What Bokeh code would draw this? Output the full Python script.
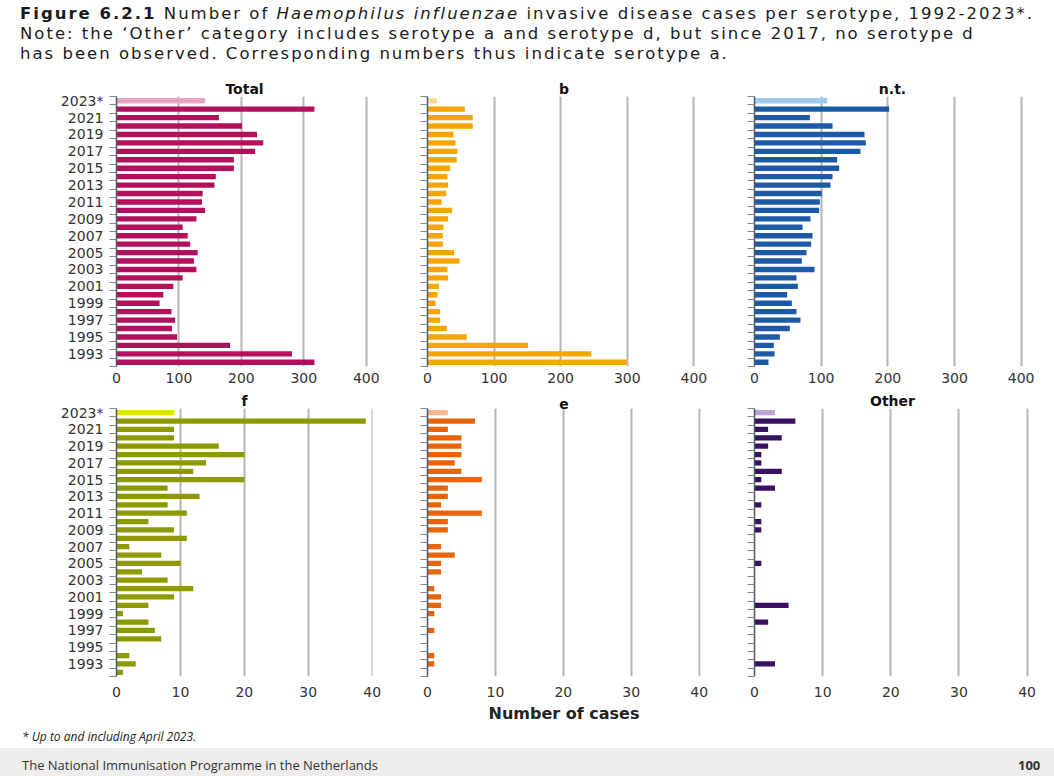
from bokeh.plotting import figure
from bokeh.layouts import column, row
from bokeh.models import Div, Range1d, FixedTicker, ColumnDataSource
from bokeh.embed import file_html
from bokeh.resources import INLINE

# ---------------- data (1992 ... 2023*) ----------------
years = list(range(1992, 2024))
label_years = list(range(1993, 2024, 2))
year_overrides = {2023: "2023*"}

total = [317, 281, 182, 97, 89, 94, 88, 69, 75, 91, 106, 128, 124, 130, 118, 114,
         106, 128, 142, 137, 138, 157, 159, 188, 188, 222, 235, 225, 201, 164, 317, 142]
sero_b = [299, 246, 151, 59, 29, 19, 19, 12, 15, 17, 31, 30, 48, 40, 23, 23,
          24, 31, 37, 21, 28, 31, 30, 34, 44, 45, 42, 39, 68, 68, 56, 14]
sero_nt = [21, 30, 29, 38, 53, 69, 63, 56, 49, 65, 63, 90, 71, 78, 85, 87,
           72, 84, 97, 98, 101, 114, 117, 127, 124, 159, 167, 165, 117, 83, 202, 109]
sero_f = [1, 3, 2, 0, 7, 6, 5, 1, 5, 9, 12, 8, 4, 10, 7, 2,
          11, 9, 5, 11, 8, 13, 8, 20, 12, 14, 20, 16, 9, 9, 39, 9]
sero_e = [0, 1, 1, 0, 0, 1, 0, 1, 2, 2, 1, 0, 2, 2, 4, 2,
          0, 3, 3, 8, 2, 3, 3, 8, 5, 4, 5, 5, 5, 3, 7, 3]
sero_other = [0, 3, 0, 0, 0, 0, 2, 0, 5, 0, 0, 0, 0, 1, 0, 0,
              0, 1, 1, 0, 1, 0, 3, 1, 4, 1, 1, 2, 4, 2, 6, 3]

ticks_top = [0, 100, 200, 300, 400]
ticks_bottom = [0, 10, 20, 30, 40]

# ---------------- styles ----------------
COLORS = {
    "Total": ("#b3105c", "#e8a3c2"),
    "b": ("#f6a600", "#fcd98c"),
    "n.t.": ("#1d5aa6", "#9ec9ee"),
    "f": ("#8c9a00", "#e0e400"),
    "e": ("#e8630a", "#f6b790"),
    "Other": ("#3a1060", "#bba4d1"),
}
FONT = "DejaVu Sans"


def panel(title, vals, ticks, xmax, width, left, right, height, top, bottom,
          labels, xstand, xlabel=None):
    dark, light = COLORS[title]
    cols = [light if y == 2023 else dark for y in years]
    src = ColumnDataSource(dict(y=years, v=vals, c=cols))
    p = figure(width=width, height=height, x_range=Range1d(0, xmax),
               y_range=Range1d(1991.5, 2023.5), output_backend="svg",
               toolbar_location=None, title=title,
               min_border_left=left, min_border_right=right,
               min_border_top=top, min_border_bottom=bottom, margin=0)
    p.hbar(y="y", left=0, right="v", height=0.64, fill_color="c",
           line_color=None, source=src)
    p.title.align = "center"
    p.title.text_font = FONT
    p.title.text_font_size = "14px"
    p.title.text_font_style = "bold"
    p.title.text_color = "#111111"
    p.title.standoff = 0
    p.outline_line_color = None
    p.background_fill_color = "white"
    p.border_fill_color = "white"

    xa = p.xaxis[0]
    xa.ticker = FixedTicker(ticks=ticks)
    xa.axis_line_color = None
    xa.major_tick_line_color = None
    xa.minor_tick_line_color = None
    xa.major_tick_out = 0
    xa.major_label_standoff = xstand
    xa.major_label_text_font = FONT
    xa.major_label_text_font_size = "14px"
    xa.major_label_text_color = "#333333"
    if xlabel:
        xa.axis_label = xlabel
        xa.axis_label_text_font = FONT
        xa.axis_label_text_font_size = "16px"
        xa.axis_label_text_font_style = "bold"
        xa.axis_label_text_color = "#222222"
        xa.axis_label_standoff = 4

    p.xgrid.ticker = FixedTicker(ticks=ticks[1:])
    p.xgrid.grid_line_color = "#b5b5b5"
    p.xgrid.grid_line_width = 2
    p.ygrid.grid_line_color = None

    ya = p.yaxis[0]
    ya.ticker = FixedTicker(ticks=label_years if labels else [],
                            minor_ticks=[y - 0.5 for y in years] + [2023.5])
    ya.major_label_overrides = year_overrides
    ya.major_tick_line_color = None
    ya.major_tick_out = 0
    ya.major_label_standoff = 6
    ya.minor_tick_out = 7
    ya.minor_tick_in = 0
    ya.minor_tick_line_color = "#7d8894"
    ya.axis_line_color = "#4d5866"
    ya.axis_line_width = 1.5
    ya.major_label_text_font = FONT
    ya.major_label_text_font_size = "14px"
    ya.major_label_text_color = "#333333"
    if not labels:
        ya.major_label_text_font_size = "0px"
    return p


H1, H2 = 314, 336
p1 = panel("Total", total, ticks_top, 410, 400, 116, 28, H1, 21, 23, True, 6)
p2 = panel("b", sero_b, ticks_top, 410, 327, 27, 27, H1, 21, 23, False, 6)
p3 = panel("n.t.", sero_nt, ticks_top, 414, 319, 27, 16, H1, 21, 23, False, 6)
p4 = panel("f", sero_f, ticks_bottom, 40.05, 400, 116, 28, H2, 19, 47, True, 10)
p5 = panel("e", sero_e, ticks_bottom, 40.2, 327, 27, 27, H2, 19, 47, False, 10,
           xlabel="Number of cases")
p6 = panel("Other", sero_other, ticks_bottom, 40.5, 319, 27, 16, H2, 19, 47, False, 10)

header = Div(
    text=("<div style=\"font-family:'DejaVu Sans';font-size:16.5px;line-height:19.75px;"
          "letter-spacing:2px;color:#1a1a1a;padding-left:20px;padding-top:4px;"
          "white-space:nowrap\">"
          "<b>Figure 6.2.1</b> Number of <i>Haemophilus influenzae</i> invasive disease "
          "cases per serotype, 1992-2023*.<br>"
          "Note: the \u2018Other\u2019 category includes serotype a and serotype d, "
          "but since 2017, no serotype d<br>"
          "has been observed. Corresponding numbers thus indicate serotype a.</div>"),
    width=1046, height=75, margin=0)

footer = Div(
    text=("<div style=\"position:relative;width:1054px;height:51px\">"
          "<div style=\"position:absolute;left:22px;top:4px;font-family:'Open Sans';"
          "font-style:italic;font-size:12px;line-height:16px;color:#222\">"
          "* Up to and including April 2023.</div>"
          "<div style=\"position:absolute;left:0;top:23px;width:1054px;height:40px;"
          "background:#efedeb\"></div>"
          "<div style=\"position:absolute;left:22px;top:31px;font-family:'Open Sans';"
          "font-size:13px;line-height:18px;color:#333\">"
          "The National Immunisation Programme in the Netherlands</div>"
          "<div style=\"position:absolute;left:1018px;top:31px;font-family:'Open Sans';"
          "font-size:13px;line-height:18px;font-weight:bold;color:#333\">100</div></div>"),
    width=1046, height=51, margin=0)

layout = column(header, row(p1, p2, p3, spacing=0), row(p4, p5, p6, spacing=0),
                footer, spacing=0)

with open("out.html", "w") as fh:
    fh.write(file_html(layout, INLINE))
